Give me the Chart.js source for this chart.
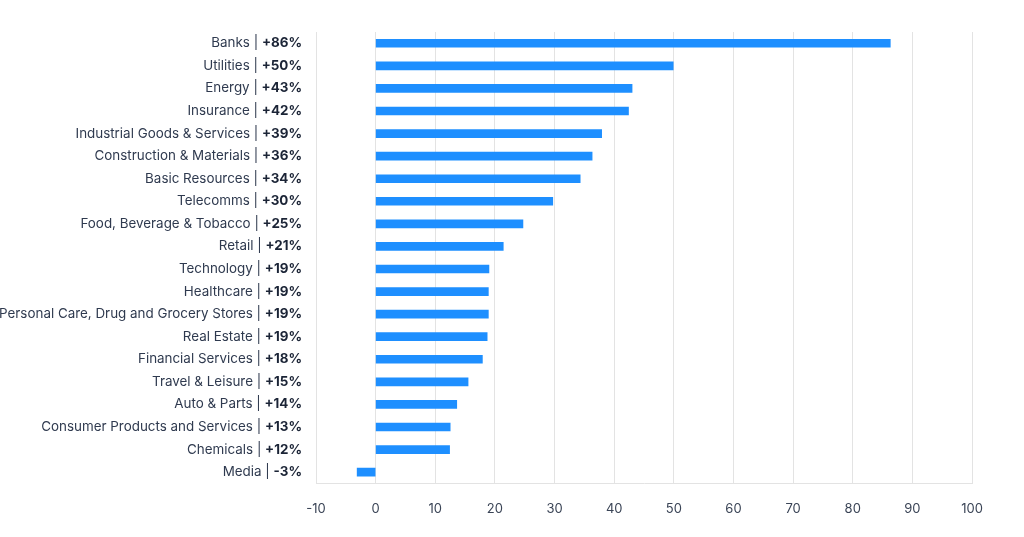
<!DOCTYPE html>
<html>
<head>
<meta charset="utf-8">
<script src="https://cdn.jsdelivr.net/npm/chart.js@4"></script>
<style>
html,body{margin:0;padding:0;background:#fff;}
#wrap{width:1024px;height:537px;position:relative;}
</style>
</head>
<body>
<div id="wrap"><canvas id="c" width="1024" height="537"></canvas></div>
<script>
const categories = ["Banks","Utilities","Energy","Insurance","Industrial Goods & Services","Construction & Materials","Basic Resources","Telecomms","Food, Beverage & Tobacco","Retail","Technology","Healthcare","Personal Care, Drug and Grocery Stores","Real Estate","Financial Services","Travel & Leisure","Auto & Parts","Consumer Products and Services","Chemicals","Media"];
const changeLabels = ["+86%","+50%","+43%","+42%","+39%","+36%","+34%","+30%","+25%","+21%","+19%","+19%","+19%","+19%","+18%","+15%","+14%","+13%","+12%","-3%"];
const values = [86.3,49.9,43.0,42.4,37.9,36.3,34.3,29.7,24.7,21.4,19.0,18.9,18.9,18.7,17.9,15.5,13.6,12.5,12.4,-3.1];
const xTicks = [-10,0,10,20,30,40,50,60,70,80,90,100];

const FONT = "Inter, 'Noto Sans', sans-serif";
const labelPlugin = {
  id: 'mixedLabels',
  afterDraw(chart){
    const ctx = chart.ctx;
    const ys = chart.scales.y;
    const xRight = 302;
    ctx.save();
    ctx.textBaseline = 'middle';
    ctx.textAlign = 'right';
    categories.forEach((cat, i) => {
      const y = ys.getPixelForValue(i);
      ctx.font = "bold 13.4px " + FONT;
      ctx.fillStyle = '#1b2436';
      const bold = changeLabels[i];
      ctx.fillText(bold, xRight, y);
      const bw = ctx.measureText(bold).width;
      ctx.font = "13.4px " + FONT;
      ctx.fillStyle = '#2f3a4f';
      ctx.fillText(cat + " | ", xRight - bw, y);
    });
    ctx.restore();
  }
};

new Chart(document.getElementById('c'), {
  type: 'bar',
  data: {
    labels: categories,
    datasets: [{
      data: values,
      backgroundColor: '#1e8fff',
      borderWidth: 0,
      barThickness: 8
    }]
  },
  options: {
    indexAxis: 'y',
    responsive: false,
    animation: false,
    layout: { padding: { left: 308, right: 52, top: 32, bottom: 2 } },
    plugins: { legend: { display: false }, tooltip: { enabled: false } },
    scales: {
      x: {
        min: -10, max: 100,
        afterBuildTicks(scale){ scale.ticks = xTicks.map(v => ({value: v})); },
        grid: { color: '#e3e3e3', drawTicks: false, lineWidth: 1 },
        border: { color: '#e3e3e3' },
        ticks: { color: '#3a4456', font: { family: FONT, size: 13 }, padding: 18 }
      },
      y: {
        ticks: { display: false },
        grid: { display: false },
        border: { display: false }
      }
    }
  },
  plugins: [labelPlugin]
});
</script>
</body>
</html>
